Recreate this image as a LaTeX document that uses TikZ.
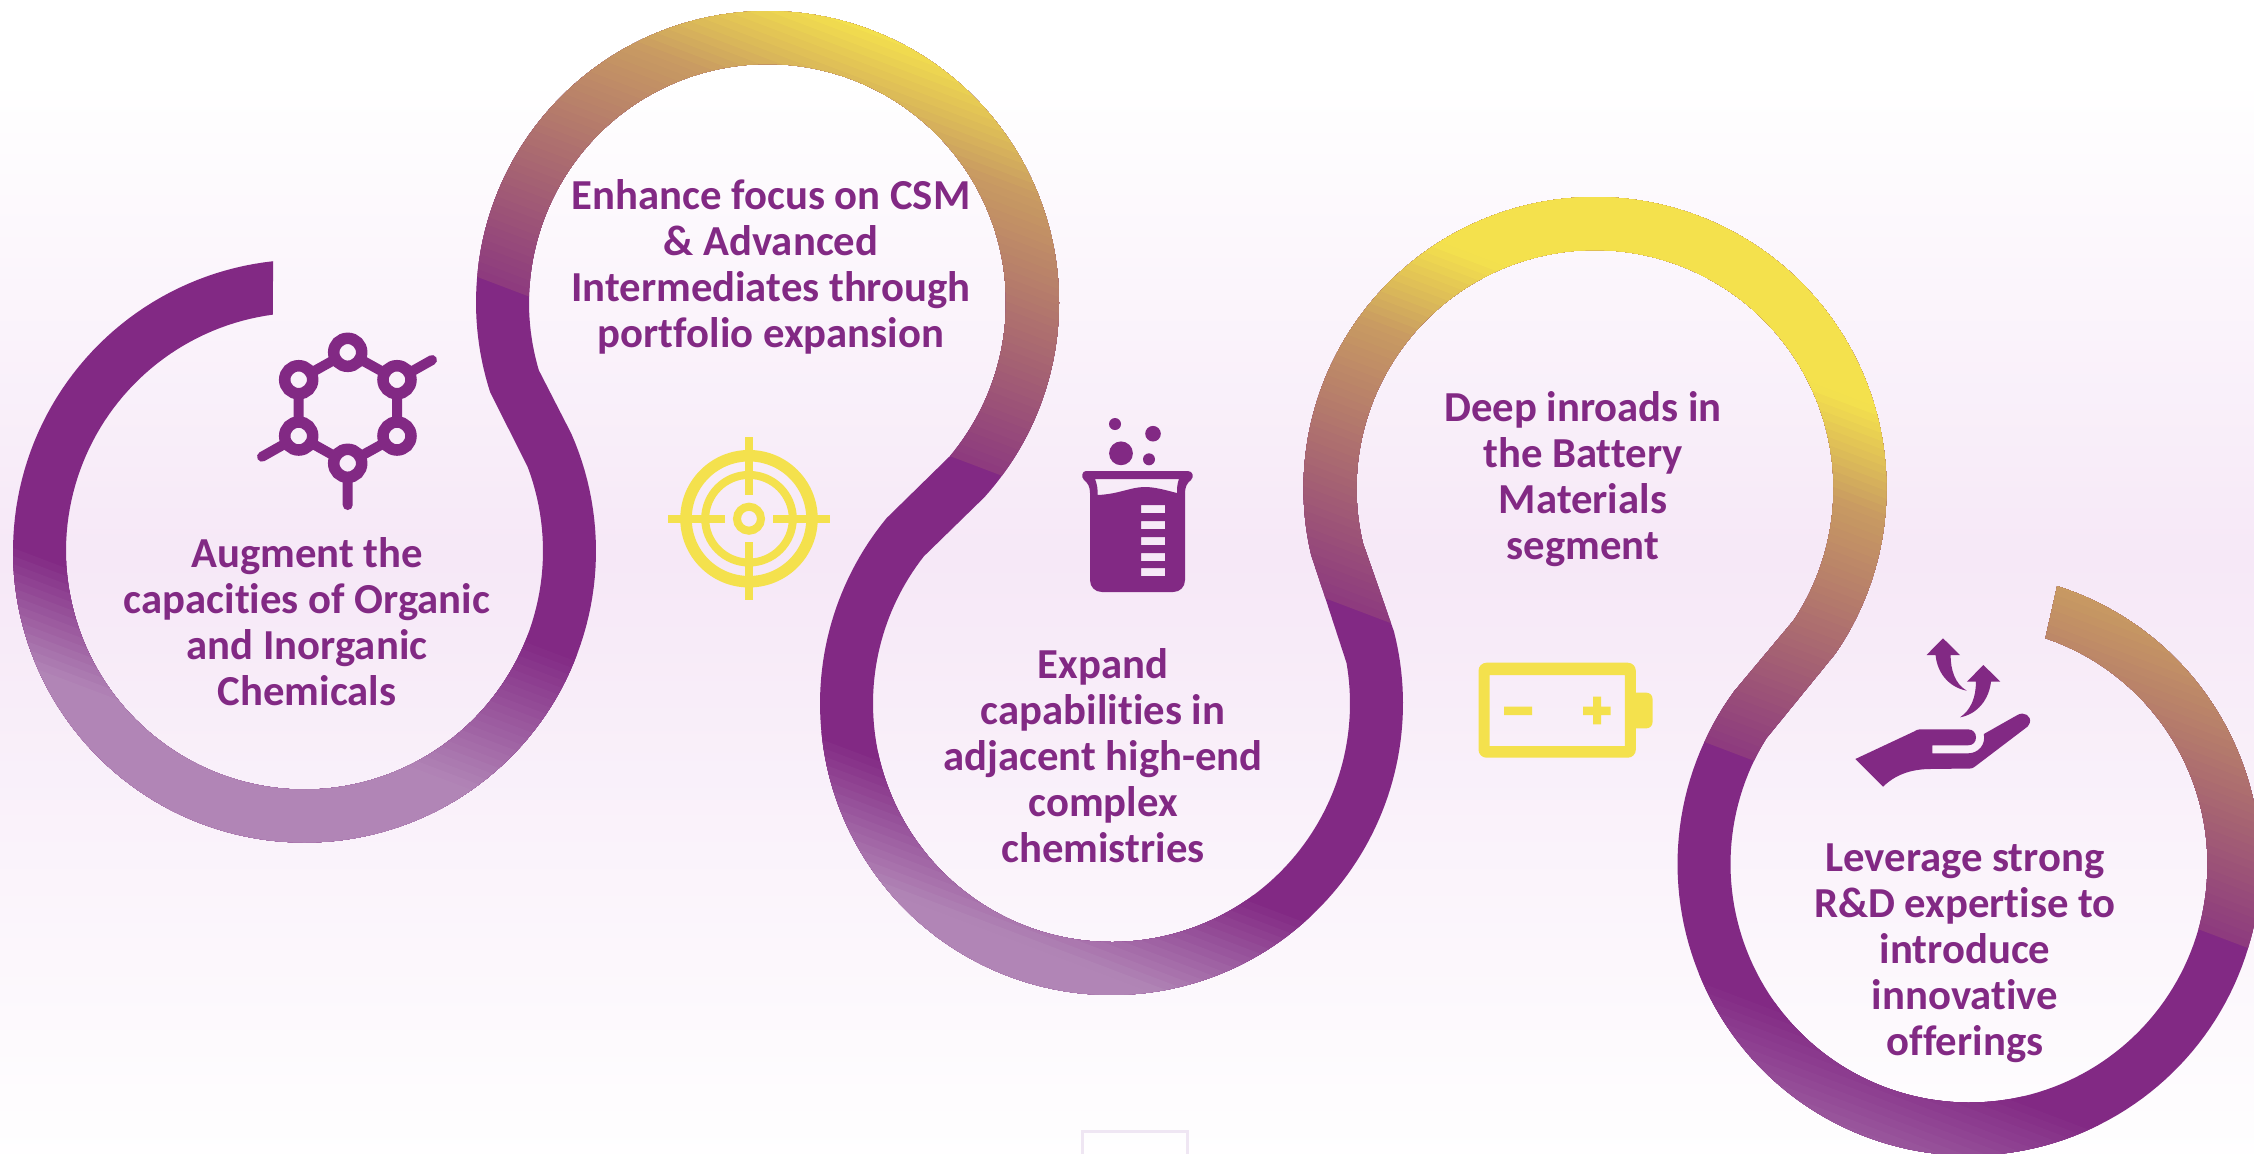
\documentclass[tikz,border=0pt]{standalone}
\usepackage{fontspec}
\setmainfont[Ligatures=NoCommon]{Carlito}
\definecolor{pur}{HTML}{822984}
\definecolor{lite}{HTML}{B185B6}
\definecolor{yel}{HTML}{F4E14D}
\definecolor{pagebg}{HTML}{F6E8F7}
\definecolor{tabline}{HTML}{EFE6F3}
\tikzset{
  caption/.style={text=pur,align=center,inner sep=0pt,font=\fontsize{12.15}{13.09}\selectfont\bfseries},
  atom/.style={circle,draw=pur,line width=0.115cm,minimum size=0.28cm,inner sep=0pt,outer sep=0pt},
  bond/.style={draw=pur,line width=0.1cm,line cap=round},
  ringbond/.style={draw=pur,line width=0.1cm},
  hair/.style={draw=yel,line width=0.08cm},
  bigsample/.style={samples=150}
}
\def\Ro{291.5}
\def\Ri{238.5}
% gradient bands below a slanted line, between x=#1 and x=#2, from s=#3 to s=#4
\newcommand{\lightbands}[4]{%
  \pgfmathtruncatemacro\nb{ceil((#4-#3)/8)}%
  \foreach \i in {0,...,\nb}{%
    \pgfmathsetmacro\sv{#3+8*\i}%
    \pgfmathsetmacro\pp{min(100,100*(8*\i/(#4-#3)))}%
    \fill[lite!\pp!pur] (#1,{0.379*#1+\sv}) -- (#2,{0.379*#2+\sv}) -- (#2,1400) -- (#1,1400) -- cycle;
  }%
}
\begin{document}
\begin{tikzpicture}[x=0.01cm,y=-0.01cm]
\path[use as bounding box] (0,0) rectangle (2254,1153);
\clip (0,0) rectangle (2254,1153);
% background
\fill[white] (0,0) rectangle (2254,82);
\shade[top color=white,bottom color=pagebg] (0,80) rectangle (2254,560);
\shade[top color=pagebg,bottom color=white!96!pagebg] (0,559) rectangle (2254,1153);
\draw[tabline,line width=0.03cm] (1082,1131) rectangle (1187,1170);
% ribbon
\def\cax{304.5}\def\cay{551}
\def\cbx{767.5}\def\cby{302.5}
\def\ccx{1111.5}\def\ccy{703.5}
\def\cdx{1595}\def\cdy{488.5}
\def\cex{1969}\def\cey{864}
\begin{scope}
\clip plot[bigsample,domain=263.8:-23.8] ({\cax+\Ro*cos(\x)},{\cay+\Ro*sin(\x)})
 -- plot[bigsample,domain=163.5:400] ({\cbx+\Ri*cos(\x)},{\cby+\Ri*sin(\x)})
 -- plot[bigsample,domain=219.5:-14.3] ({\ccx+\Ro*cos(\x)},{\ccy+\Ro*sin(\x)})
 -- plot[bigsample,domain=166.8:393.5] ({\cdx+\Ri*cos(\x)},{\cdy+\Ri*sin(\x)})
 -- plot[bigsample,domain=216.3:-72.4] ({\cex+\Ro*cos(\x)},{\cey+\Ro*sin(\x)})
 -- plot[bigsample,domain=-71.3:211.8] ({\cex+\Ri*cos(\x)},{\cey+\Ri*sin(\x)})
 -- plot[bigsample,domain=394.4:166.9] ({\cdx+\Ro*cos(\x)},{\cdy+\Ro*sin(\x)})
 -- plot[bigsample,domain=-9.8:218.1] ({\ccx+\Ri*cos(\x)},{\ccy+\Ri*sin(\x)})
 -- plot[bigsample,domain=401.9:162.1] ({\cbx+\Ro*cos(\x)},{\cby+\Ro*sin(\x)})
 -- plot[bigsample,domain=-20.6:262.4] ({\cax+\Ri*cos(\x)},{\cay+\Ri*sin(\x)})
 -- cycle;
\fill[pur] (0,0) rectangle (2254,1153);
\lightbands{-10}{304}{535}{653}
\lightbands{304}{700}{435}{608}
\lightbands{700}{1500}{420}{550}
\lightbands{1500}{2300}{330}{520}
\foreach \sv in {96,88,...,-304}{
  \pgfmathsetmacro\pp{100*min(1,(\sv>=-192 ? 0.1+(96-(\sv))*0.52/288 : 0.62+(-192-(\sv))*0.38/106))}
  \fill[yel!\pp!pur] (-10,{0.379*(-10)+\sv}) -- (2264,{0.379*2264+\sv}) -- (2264,-50) -- (-10,-50) -- cycle;
}
\end{scope}
% captions
\node[caption] (t1) at (307,622) {Augment the\\capacities of Organic\\and Inorganic\\Chemicals};
\node[caption] (t2) at (771,267) {Enhance focus on CSM\\\& Advanced\\Intermediates through\\portfolio expansion};
\node[caption] (t3) at (1103,756) {Expand\\capabilities in\\adjacent high-end\\complex\\chemistries};
\node[caption] (t4) at (1583,479) {Deep inroads in\\the Battery\\Materials\\segment};
\node[caption] (t5) at (1965,953) {Leverage strong\\R\&D expertise to\\introduce\\innovative\\offerings};
% molecule icon
\node[atom] (m1) at (347.7,352.3) {};
\node[atom] (m2) at (397,379.7) {};
\node[atom] (m3) at (397,436) {};
\node[atom] (m4) at (347.7,463.3) {};
\node[atom] (m5) at (298.7,436) {};
\node[atom] (m6) at (298.7,379.7) {};
\coordinate (s2) at (432,360);
\coordinate (s5) at (262,456.7);
\coordinate (s4) at (347.7,505);
\draw[ringbond] (m1)--(m2) (m2)--(m3) (m3)--(m4) (m4)--(m5) (m5)--(m6) (m6)--(m1);
\draw[bond] (m2)--(s2) (m5)--(s5) (m4)--(s4);
% target icon
\draw[yel,line width=0.115cm] (749,518.7) circle[radius=63];
\draw[yel,line width=0.08cm] (749,518.7) circle[radius=43.8];
\draw[yel,line width=0.08cm] (749,518.7) circle[radius=12];
\draw[hair] (749,437.3)--(749,495) (749,542.3)--(749,600) (668,518.7)--(725,518.7) (773,518.7)--(830,518.7);
% beaker icon
\fill[pur] (1115,424) circle[radius=6] (1153,433.7) circle[radius=7.8] (1121,453.3) circle[radius=11.9] (1149,459.3) circle[radius=6];
\fill[pur,even odd rule]
  (1086,471) -- (1188,471) .. controls (1193,471) and (1194,477) .. (1191,480)
  .. controls (1187,483) and (1185,487) .. (1185,493)
  -- (1185,580) .. controls (1185,587) and (1180,592) .. (1173,592)
  -- (1102,592) .. controls (1095,592) and (1090,587) .. (1090,580)
  -- (1090,493) .. controls (1090,487) and (1088,483) .. (1084,480)
  .. controls (1081,477) and (1082,471) .. (1086,471) -- cycle
  (1095,479) -- (1179,479) .. controls (1177,484) and (1177,489) .. (1177,493)
  .. controls (1165,490) and (1155,487) .. (1145,487)
  .. controls (1130,487) and (1120,494) .. (1097.5,495)
  .. controls (1098,489) and (1097,484) .. (1095,479) -- cycle
  (1141,505) rectangle (1165,513) (1141,521) rectangle (1165,529)
  (1141,537) rectangle (1165,545) (1141,553) rectangle (1165,561)
  (1141,568) rectangle (1165,576);
% battery icon
\fill[yel,even odd rule] [rounded corners=0.08cm] (1478.5,662.7) rectangle (1635.8,757.7) [sharp corners] (1489.5,675) rectangle (1624.8,746);
\fill[yel,rounded corners=0.06cm] (1630,692.7) rectangle (1652.5,728.3);
\fill[yel] (1504,706.7) rectangle (1532,715) (1583,706.7) rectangle (1610.5,715) (1593,696.7) rectangle (1601,724.3);
% hand icon
\fill[pur] (1855.3,759) -- (1914,731.5) .. controls (1916,730) and (1918,729.5) .. (1920,729.3)
  -- (1968,729.3) .. controls (1973,729.3) and (1976,733) .. (1976,737.3)
  .. controls (1976,742) and (1973,745.3) .. (1968,745.3)
  -- (1932.4,745.3) -- (1932.4,753.3) -- (1968,753.3)
  .. controls (1978,753.3) and (1986,745) .. (1983.8,734)
  -- (2017.4,715) .. controls (2024,711) and (2032,716) .. (2029.7,723)
  .. controls (2029,726) and (2027,727) .. (2025.3,728.3)
  -- (1975,766.5) .. controls (1973,768) and (1972,768.5) .. (1970,768.5)
  -- (1928.5,769) .. controls (1910,769.5) and (1895,775) .. (1883,786.7) -- cycle;
\fill[pur] (1943,638.3) -- (1960,655) -- (1950.6,655) .. controls (1950.6,670) and (1955,684) .. (1966.8,690.7)
  .. controls (1948,687) and (1937,672) .. (1935.6,655) -- (1926.5,655) -- cycle;
\fill[pur] (1983.4,665) -- (2000.4,681.7) -- (1991,681.7) .. controls (1989,699) and (1978,714) .. (1960,717.3)
  .. controls (1971,710) and (1976,697) .. (1975.9,681.7) -- (1966.8,681.7) -- cycle;
\end{tikzpicture}
\end{document}
